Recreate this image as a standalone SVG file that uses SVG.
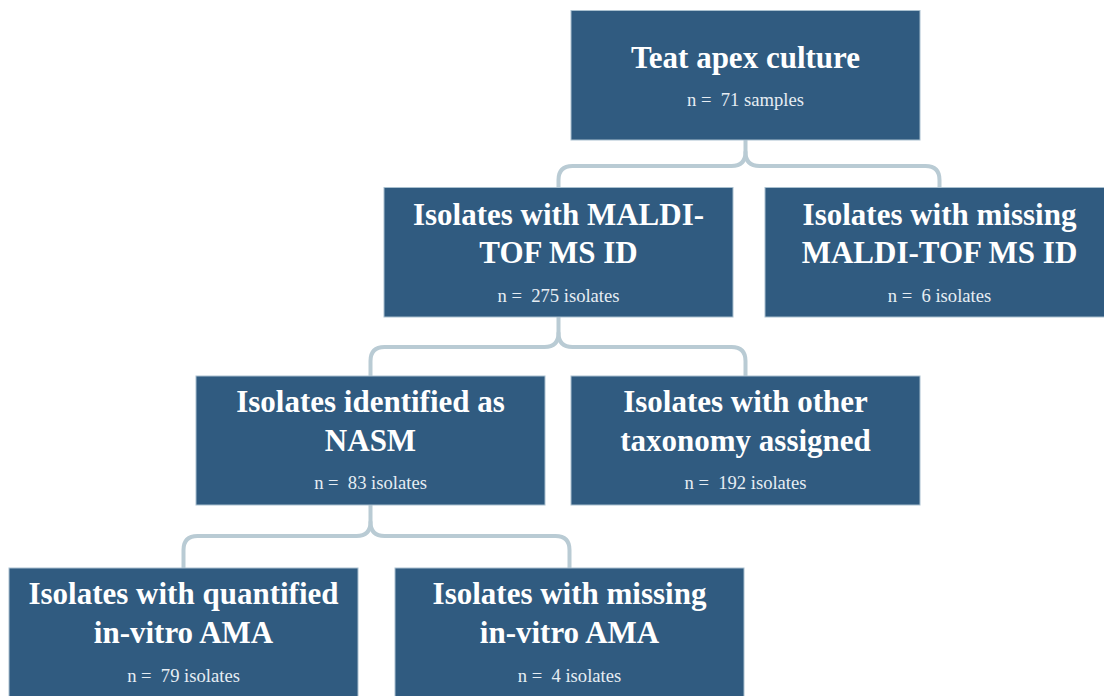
<svg xmlns="http://www.w3.org/2000/svg" width="1104" height="696" viewBox="0 0 1104 696">
<style>
.box{fill:#305b80;stroke:#a9c0cf;stroke-width:1}
.t{font-family:"Liberation Serif","Times New Roman",serif;font-weight:bold;font-size:31px;fill:#ffffff;text-anchor:middle}
.s{font-family:"Liberation Serif","Times New Roman",serif;font-size:18.6px;fill:#e6edf3;text-anchor:middle;white-space:pre}
.c{fill:none;stroke:#b9cbd4;stroke-width:4;stroke-linecap:round}
</style>
<rect width="1104" height="696" fill="#ffffff"/>
<g id="connectors">
<path class="c" d="M745.5,140 V152 Q745.5,166 731.5,166 H572.5 Q558.5,166 558.5,180 V188"/>
<path class="c" d="M745.5,152 Q745.5,166 759.5,166 H925.5 Q939.5,166 939.5,180 V188"/>
<path class="c" d="M558.5,317 V333 Q558.5,347 544.5,347 H384.5 Q370.5,347 370.5,361 V376"/>
<path class="c" d="M558.5,333 Q558.5,347 572.5,347 H731.5 Q745.5,347 745.5,361 V376"/>
<path class="c" d="M370.5,505 V522 Q370.5,536 356.5,536 H197.5 Q183.5,536 183.5,550 V568"/>
<path class="c" d="M370.5,522 Q370.5,536 384.5,536 H555.5 Q569.5,536 569.5,550 V568"/>
</g>
<g id="n1">
<rect class="box" x="571" y="10.5" width="349" height="129.5"/>
<text class="t" x="745.5" y="67.5">Teat apex culture</text>
<text class="s" x="745.5" y="106" xml:space="preserve">n =  71 samples</text>
</g>
<g id="n2">
<rect class="box" x="384" y="187.5" width="349" height="129.5"/>
<text class="t" x="558.5" y="225">Isolates with MALDI-</text>
<text class="t" x="558.5" y="263">TOF MS ID</text>
<text class="s" x="558.5" y="302" xml:space="preserve">n =  275 isolates</text>
</g>
<g id="n3">
<rect class="box" x="765" y="187.5" width="349" height="129.5"/>
<text class="t" x="939.5" y="225">Isolates with missing</text>
<text class="t" x="939.5" y="263">MALDI-TOF MS ID</text>
<text class="s" x="939.5" y="302" xml:space="preserve">n =  6 isolates</text>
</g>
<g id="n4">
<rect class="box" x="196" y="376" width="349" height="129"/>
<text class="t" x="370.5" y="412">Isolates identified as</text>
<text class="t" x="370.5" y="451">NASM</text>
<text class="s" x="370.5" y="489" xml:space="preserve">n =  83 isolates</text>
</g>
<g id="n5">
<rect class="box" x="571" y="376" width="349" height="129"/>
<text class="t" x="745.5" y="412">Isolates with other</text>
<text class="t" x="745.5" y="451">taxonomy assigned</text>
<text class="s" x="745.5" y="489" xml:space="preserve">n =  192 isolates</text>
</g>
<g id="n6">
<rect class="box" x="9" y="568" width="349" height="140"/>
<text class="t" x="183.5" y="604">Isolates with quantified</text>
<text class="t" x="183.5" y="643">in-vitro AMA</text>
<text class="s" x="183.5" y="682" xml:space="preserve">n =  79 isolates</text>
</g>
<g id="n7">
<rect class="box" x="395" y="568" width="349" height="140"/>
<text class="t" x="569.5" y="604">Isolates with missing</text>
<text class="t" x="569.5" y="643">in-vitro AMA</text>
<text class="s" x="569.5" y="682" xml:space="preserve">n =  4 isolates</text>
</g>
</svg>
